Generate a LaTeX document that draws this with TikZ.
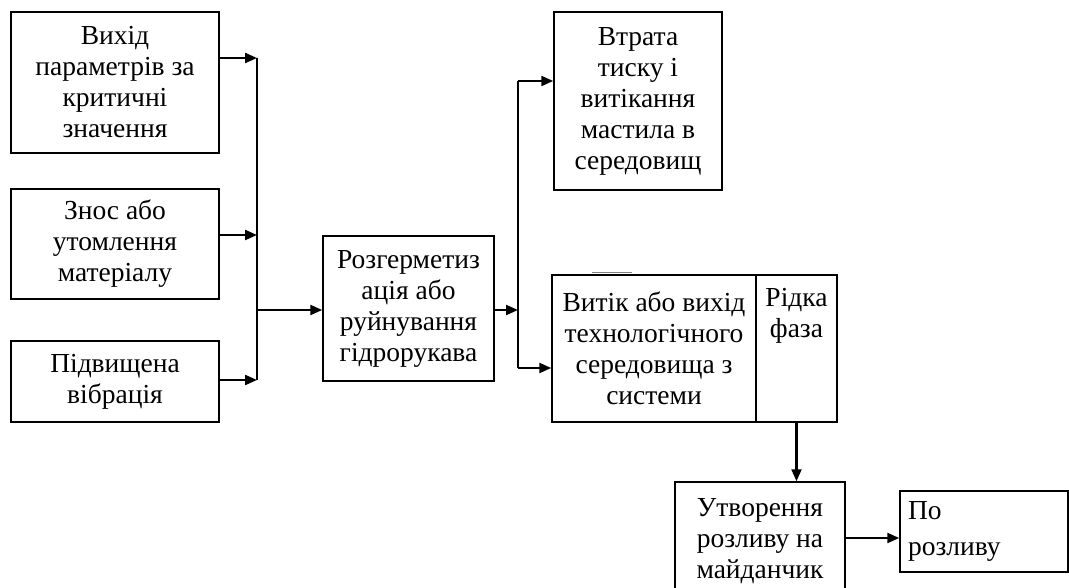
\documentclass[tikz,border=0pt]{standalone}
\usepackage{fontspec}
\setmainfont{Liberation Serif}
\usetikzlibrary{arrows.meta}
\tikzset{
  box/.style={draw, line width=1.5pt, align=center, inner sep=0pt,
    font=\fontsize{27.5}{31}\selectfont},
  arr/.style={line width=2.2pt, -{Triangle[length=12pt,width=10pt]}},
  ln/.style={line width=2.2pt},
}
\begin{document}
\begin{tikzpicture}[x=1pt,y=-1pt]
\useasboundingbox (0,0) rectangle (1069,588);
\begin{scope}
\clip (0,0) rectangle (1069,588);
\node[box, minimum width=208pt, minimum height=141pt] (b1) at (115,82.5)
  {Вихід\\параметрів за\\критичні\\значення};
\node[box, minimum width=208pt, minimum height=110pt] (b2) at (115,244)
  {Знос або\\утомлення\\матеріалу};
\node[box, minimum width=208pt, minimum height=81pt] (b3) at (115,381.5)
  {Підвищена\\вібрація};
\node[box, minimum width=171pt, minimum height=145pt] (c) at (408.5,308.5)
  {Розгерметиз\\ація або\\руйнування\\гідрорукава};
\node[box, minimum width=168pt, minimum height=178pt] (t) at (638,101)
  {Втрата\\тиску і\\витікання\\мастила в\\середовищ};
\node[box, minimum width=204pt, minimum height=147pt] (v) at (654,348.5)
  {Витік або вихід\\технологічного\\середовища з\\системи};
\node[box, minimum width=81pt, minimum height=147pt] (r) at (796.5,348.5)
  {Рідка\\фаза\\\strut\\\strut};
\node[box, minimum width=170pt, minimum height=118pt] (u) at (760,541)
  {Утворення\\розливу на\\майданчик};
\node[box, minimum height=81pt, text width=152pt, inner xsep=8pt, align=left,
  font=\fontsize{27.5}{36}\selectfont] (p) at (984,531.5)
  {По\\розливу};
\end{scope}
\draw[line width=1.3pt, gray] (592,272.5) -- (632,272.5);
% left bus
\coordinate (k1) at (257,58);
\coordinate (k2) at (257,235);
\coordinate (k3) at (257,380);
\coordinate (km) at (257,310);
\draw[arr] (b1.east |- k1) -- (k1);
\draw[arr] (b2.east |- k2) -- (k2);
\draw[arr] (b3.east |- k3) -- (k3);
\draw[ln] (k1) -- (k3);
\draw[arr] (km) -- (km -| c.west);
% right split
\coordinate (s) at (518,310);
\coordinate (s1) at (518,81);
\coordinate (s2) at (518,368);
\draw[arr] (c.east |- s) -- (s);
\draw[ln] (s1) -- (s2);
\draw[arr] (s1) -- (s1 -| t.west);
\draw[arr] (s2) -- (s2 -| v.west);
% bottom
\draw[arr] (r.south) -- (r.south |- u.north);
\coordinate (w) at (845,538);
\draw[arr] (w) -- (w -| p.west);
\end{tikzpicture}
\end{document}
